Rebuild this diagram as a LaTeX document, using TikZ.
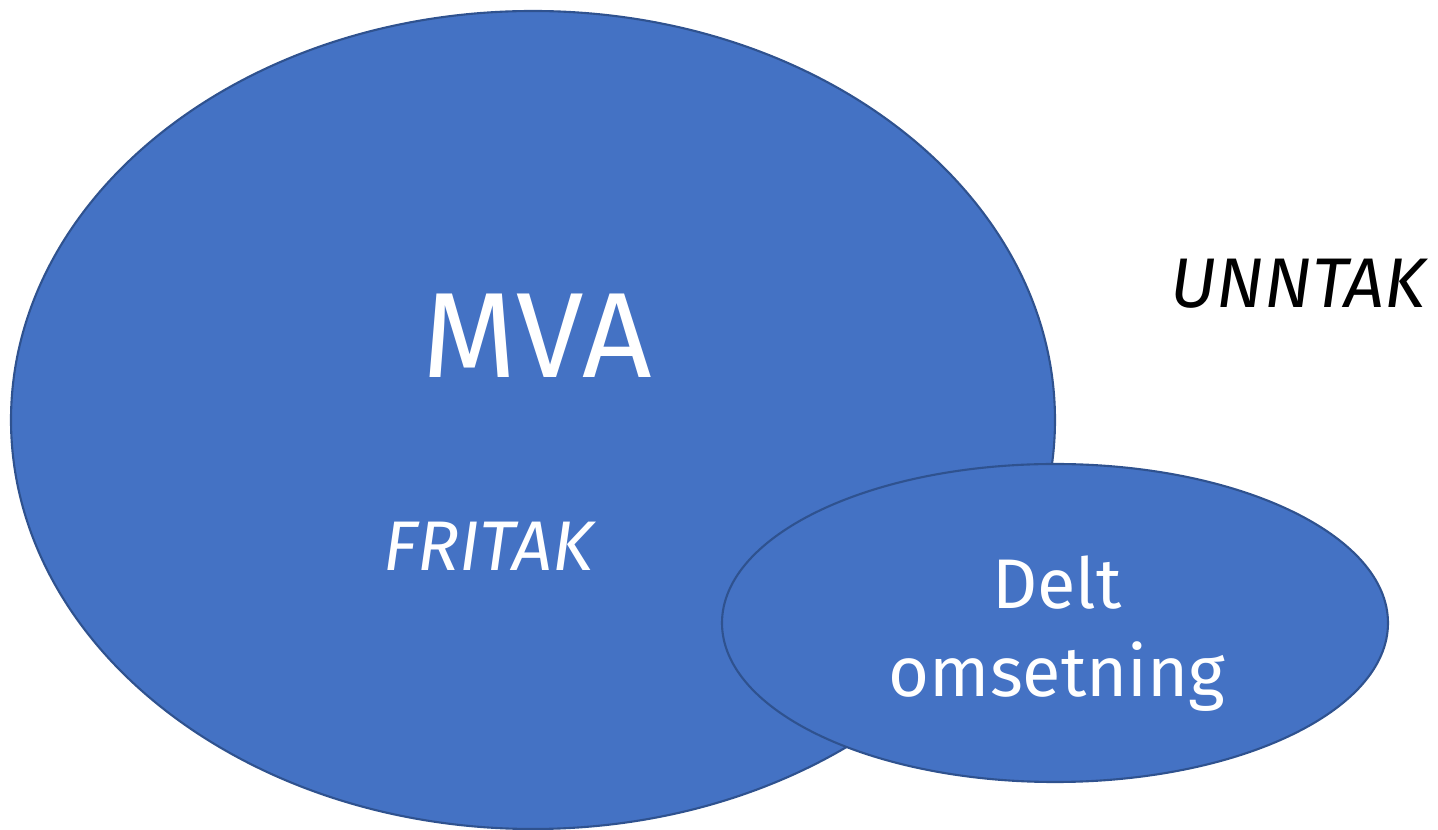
\documentclass[tikz,border=0pt]{standalone}
\usepackage{fontspec}
\setmainfont{Fira Sans}
\usetikzlibrary{shapes.geometric}
\definecolor{blobfill}{HTML}{4472C4}
\definecolor{blobline}{HTML}{2F528F}
\begin{document}
\begin{tikzpicture}[x=0.02cm,y=-0.02cm,
  blob/.style={fill=blobfill,draw=blobline,line width=1.2pt},
  wlabel/.style={text=white,inner sep=0pt,align=center}]
\useasboundingbox (0,0) rectangle (1438,830);
\fill[blob] (533,420) ellipse [x radius=522,y radius=409];
\fill[blob] (1055,623) ellipse [x radius=333,y radius=159];
\node[wlabel,font=\fontsize{69}{72}\selectfont] (mva) at (537,336) {MVA};
\node[wlabel,font=\fontsize{40}{44}\selectfont\itshape] (fritak) at (488,546) {FRITAK};
\node[wlabel,font=\fontsize{40}{50}\selectfont] (delt) at (1057,634) {Delt\\omsetning};
\node[inner sep=0pt,font=\fontsize{40}{44}\selectfont\itshape] (unntak) at (1298,284) {UNNTAK};
\end{tikzpicture}
\end{document}
